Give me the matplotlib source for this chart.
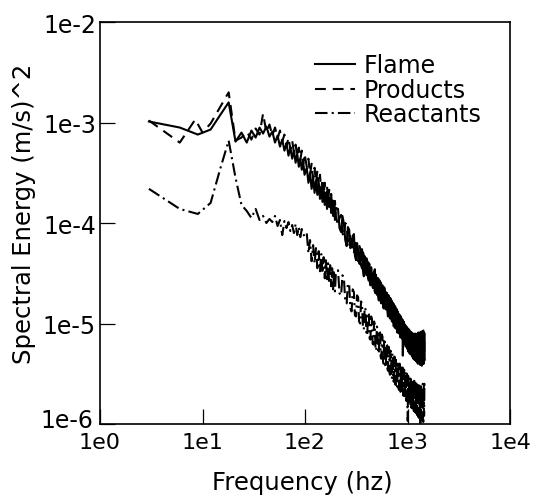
import numpy as np
import matplotlib
matplotlib.use("Agg")
import matplotlib.pyplot as plt
import matplotlib.transforms as mtransforms

plt.rcParams['font.family'] = ['DejaVu Sans']

# ---------------- data (log10 of spectral energy) ----------------
f_low = [3, 6, 9, 12, 15, 18, 21]
f_prod_low = [3, 6, 8.5, 10, 12, 15, 18, 21]
f_mid = np.arange(24, 100, 3)      # 24 .. 99 Hz
f_hi = np.arange(104, 201, 4)      # 104 .. 200 Hz
f_top = np.arange(210, 1471, 15)   # 210 .. 1470 Hz
f_top_b = np.arange(217, 1471, 15) # 217 .. 1462 Hz (interleaved samples)

flame_low = [-2.99, -3.05, -3.12, -3.07, -2.92, -2.80, -3.19]
flame_mid = [-3.10, -3.20, -3.08, -3.15, -3.05, -3.11, -3.04, -3.14, -3.09, -3.20,
             -3.13, -3.24, -3.17, -3.28, -3.21, -3.33, -3.25, -3.36, -3.28, -3.40,
             -3.31, -3.44, -3.36, -3.47, -3.39, -3.52]
flame_hi = [-3.45, -3.60, -3.50, -3.66, -3.55, -3.70, -3.58, -3.72, -3.60, -3.76,
            -3.64, -3.79, -3.67, -3.82, -3.70, -3.86, -3.73, -3.84, -3.75, -3.90,
            -3.78, -3.93, -3.82, -3.97, -3.85]
flame_top = [-3.86, -4.09, -4.01, -4.23, -4.07, -4.23, -4.11, -4.37, -4.27, -4.41,
             -4.26, -4.53, -4.37, -4.51, -4.40, -4.62, -4.52, -4.65, -4.46, -4.67,
             -4.55, -4.77, -4.60, -4.80, -4.62, -4.85, -4.66, -4.86, -4.70, -4.93,
             -4.74, -4.95, -4.77, -4.98, -4.80, -5.03, -4.83, -5.05, -4.86, -5.09,
             -4.90, -5.10, -4.92, -5.14, -4.95, -5.15, -5.32, -4.98, -5.20, -5.01,
             -5.23, -5.03, -5.25, -5.06, -5.28, -5.06, -5.30, -5.08, -5.31, -5.09,
             -5.33, -5.10, -5.35, -5.11, -5.36, -5.10, -5.37, -5.11, -5.38, -5.12,
             -5.40, -5.09, -5.37, -5.13, -5.41, -5.10, -5.38, -5.08, -5.42, -5.12,
             -5.39, -5.07, -5.40, -5.11, -5.36]
flame_top_b = [-4.05, -3.93, -4.17, -4.04, -4.25, -4.13, -4.33, -4.20, -4.40, -4.27,
               -4.47, -4.33, -4.52, -4.39, -4.58, -4.44, -4.64, -4.49, -4.70, -4.55,
               -4.72, -4.57, -4.78, -4.62, -4.80, -4.64, -4.85, -4.69, -4.88, -4.72,
               -4.92, -4.75, -4.95, -4.79, -4.98, -4.82, -5.01, -4.85, -5.04, -4.88,
               -5.07, -4.91, -5.10, -4.93, -5.12, -4.96, -5.15, -4.99, -5.18, -5.02,
               -5.20, -5.04, -5.22, -5.05, -5.24, -5.07, -5.27, -5.09, -5.28, -5.10,
               -5.30, -5.10, -5.31, -5.12, -5.33, -5.11, -5.34, -5.13, -5.36, -5.10,
               -5.35, -5.14, -5.38, -5.09, -5.36, -5.12, -5.41, -5.11, -5.37, -5.08,
               -5.40, -5.13, -5.38, -5.10]

products_low = [-2.98, -3.20, -2.97, -3.10, -3.01, -2.84, -2.70, -3.18]
products_mid = [-3.15, -3.09, -3.17, -3.06, -3.12, -2.91, -3.10, -3.02, -3.13, -3.05,
                -3.16, -3.08, -3.19, -3.12, -3.24, -3.15, -3.27, -3.18, -3.30, -3.22,
                -3.34, -3.25, -3.37, -3.28, -3.41, -3.31]
products_hi = [-3.44, -3.36, -3.52, -3.41, -3.56, -3.45, -3.60, -3.48, -3.64, -3.52,
               -3.68, -3.56, -3.72, -3.60, -3.75, -3.63, -3.79, -3.67, -3.83, -3.71,
               -3.87, -3.74, -3.90, -3.78, -3.93]
products_top = [-4.03, -3.92, -4.14, -4.02, -4.24, -4.12, -4.31, -4.18, -4.38, -4.25,
                -4.45, -4.32, -4.50, -4.38, -4.58, -4.43, -4.63, -4.49, -4.68, -4.53,
                -4.72, -4.57, -4.76, -4.61, -4.80, -4.65, -4.84, -4.69, -4.88, -4.72,
                -4.91, -4.75, -4.94, -4.79, -4.97, -4.82, -5.00, -4.85, -5.03, -4.88,
                -5.06, -4.90, -5.08, -4.93, -5.11, -4.96, -5.14, -5.00, -5.17, -5.02,
                -5.20, -5.05, -5.22, -5.07, -5.24, -5.09, -5.26, -5.10, -5.28, -5.11,
                -5.30, -5.12, -5.31, -5.13, -5.32, -5.14, -5.33, -5.13, -5.35, -5.14,
                -5.34, -5.12, -5.36, -5.15, -5.33, -5.11, -5.37, -5.14, -5.35, -5.10,
                -5.38, -5.13, -5.34, -5.09, -5.37]
products_top_b = [-3.95, -4.10, -4.00, -4.19, -4.10, -4.27, -4.16, -4.36, -4.22, -4.42,
                  -4.29, -4.49, -4.35, -4.55, -4.41, -4.60, -4.46, -4.66, -4.51, -4.70,
                  -4.55, -4.75, -4.59, -4.78, -4.63, -4.82, -4.67, -4.86, -4.70, -4.89,
                  -4.74, -4.92, -4.77, -4.95, -4.80, -4.98, -4.83, -5.01, -4.86, -5.04,
                  -4.89, -5.07, -4.92, -5.10, -4.94, -5.13, -4.97, -5.16, -5.00, -5.19,
                  -5.03, -5.21, -5.05, -5.23, -5.07, -5.25, -5.08, -5.27, -5.10, -5.29,
                  -5.11, -5.30, -5.12, -5.32, -5.13, -5.33, -5.12, -5.34, -5.13, -5.36,
                  -5.11, -5.35, -5.14, -5.37, -5.10, -5.36, -5.13, -5.38, -5.09, -5.35,
                  -5.12, -5.39, -5.10, -5.36]

reactants_low = [-3.66, -3.86, -3.91, -3.80, -3.45, -3.18, -3.55]
reactants_mid = [-3.82, -3.88, -3.95, -3.86, -3.97, -3.93, -4.00, -3.96, -3.99, -3.93,
                 -4.03, -3.97, -4.12, -3.98, -4.05, -3.99, -4.08, -4.02, -4.10, -4.01,
                 -4.12, -4.04, -4.14, -4.06, -4.11, -4.13]
reactants_hi = [-4.10, -4.30, -4.17, -4.38, -4.22, -4.40, -4.25, -4.45, -4.28, -4.48,
                -4.31, -4.50, -4.34, -4.55, -4.37, -4.58, -4.40, -4.60, -4.42, -4.63,
                -4.45, -4.66, -4.47, -4.68, -4.50]
reactants_top = [-4.47, -4.72, -4.56, -4.80, -4.62, -4.88, -4.69, -4.93, -4.74, -5.00,
                 -4.80, -5.06, -4.86, -5.12, -4.91, -5.16, -4.96, -5.21, -5.01, -5.27,
                 -5.05, -5.30, -5.09, -5.35, -5.13, -5.40, -5.17, -5.44, -5.21, -5.47,
                 -5.24, -5.51, -5.28, -5.55, -5.30, -5.58, -5.33, -5.61, -5.36, -5.63,
                 -5.38, -5.66, -5.40, -5.68, -5.42, -5.70, -5.44, -5.72, -5.46, -5.74,
                 -5.49, -5.77, -5.50, -5.97, -5.53, -5.80, -5.55, -5.82, -5.56, -5.84,
                 -5.57, -5.86, -5.59, -5.87, -5.58, -5.88, -5.60, -5.89, -5.61, -5.90,
                 -5.62, -5.93, -5.60, -5.91, -5.63, -5.99, -5.61, -5.92, -5.64, -5.94,
                 -5.60, -5.98, -5.62, -5.91, -5.65]
reactants_top_b = [-4.70, -4.52, -4.78, -4.60, -4.85, -4.66, -4.92, -4.72, -4.98, -4.78,
                   -5.04, -4.84, -5.10, -4.89, -5.15, -4.93, -5.20, -4.98, -5.25, -5.03,
                   -5.29, -5.07, -5.33, -5.11, -5.38, -5.15, -5.42, -5.20, -5.45, -5.23,
                   -5.49, -5.27, -5.53, -5.30, -5.56, -5.33, -5.59, -5.35, -5.62, -5.38,
                   -5.64, -5.40, -5.66, -5.42, -5.68, -5.44, -5.71, -5.46, -5.73, -5.48,
                   -5.75, -5.50, -5.78, -5.52, -5.79, -5.54, -5.81, -5.55, -5.83, -5.56,
                   -5.85, -5.58, -5.86, -5.57, -5.88, -5.59, -5.89, -5.60, -5.91, -5.61,
                   -5.92, -5.59, -5.94, -5.62, -5.90, -5.60, -5.96, -5.63, -5.93, -5.61,
                   -5.95, -5.64, -5.92, -5.60]

x_ticks = [1e0, 1e1, 1e2, 1e3, 1e4]
x_tick_labels = ['1e0', '1e1', '1e2', '1e3', '1e4']
y_ticks = [1e-6, 1e-5, 1e-4, 1e-3, 1e-2]
y_tick_labels = ['1e-6', '1e-5', '1e-4', '1e-3', '1e-2']


# ---------------- assemble ----------------
def build(f_first, v_first, v_mid, v_hi, v_top, v_top_b):
    ft = np.concatenate([f_top, f_top_b])
    vt = np.concatenate([v_top, v_top_b])
    order = np.argsort(ft)
    f = np.concatenate([f_first, f_mid, f_hi, ft[order]])
    v = np.concatenate([v_first, v_mid, v_hi, vt[order]])
    return f, 10 ** v


flame_f, flame_e = build(f_low, flame_low, flame_mid, flame_hi, flame_top, flame_top_b)
prod_f, prod_e = build(f_prod_low, products_low, products_mid, products_hi,
                       products_top, products_top_b)
reac_f, reac_e = build(f_low, reactants_low, reactants_mid, reactants_hi,
                       reactants_top, reactants_top_b)

# ---------------- plot ----------------
fig = plt.figure(figsize=(5.35, 5.02), dpi=100)
ax = fig.add_axes([100 / 535, 1 - 425 / 502, 410 / 535, 402 / 502])

lw = 1.5
ax.plot(flame_f, flame_e, color='black', lw=lw, ls='-', label='Flame')
ax.plot(prod_f, prod_e, color='black', lw=lw, ls=(0, (5.2, 3.3)), label='Products')
ax.plot(reac_f, reac_e, color='black', lw=lw, ls=(0, (6.0, 2.0, 1.0, 2.0)), label='Reactants')

ax.set_xscale('log')
ax.set_yscale('log')
ax.set_xlim(1e0, 1e4)
ax.set_ylim(1e-6, 1e-2)
ax.set_xticks(x_ticks)
ax.set_xticklabels(x_tick_labels)
ax.set_yticks(y_ticks)
ax.set_yticklabels(y_tick_labels)
ax.minorticks_off()
ax.tick_params(axis='both', which='major', direction='in', length=11, width=0.9,
               pad=3, top=False, right=False, color='black')
ax.tick_params(axis='x', pad=6, labelsize=16)
ax.tick_params(axis='y', labelsize=17)
for sp in ax.spines.values():
    sp.set_linewidth(1.2)
    sp.set_color('black')

# lift the lowest y label a little so it clears the '1e0' label
lowest = ax.get_yticklabels()[0]
lowest.set_transform(lowest.get_transform() +
                     mtransforms.ScaledTranslation(-2 / 72, 5 / 72, fig.dpi_scale_trans))

ax.set_xlabel('Frequency (hz)', fontsize=17.5)
ax.xaxis.set_label_coords(0.493, -0.115)
ax.xaxis.label.set_va('top')
ax.set_ylabel('Spectral Energy (m/s)^2', fontsize=17.5)
ax.yaxis.set_label_coords(-0.155, 0.525)

leg = ax.legend(loc='upper left', bbox_to_anchor=(0.524, 0.922), frameon=False,
                fontsize=17, handlelength=1.7, handletextpad=0.35,
                labelspacing=0.02, borderpad=0, borderaxespad=0)

fig.savefig('out.png', dpi=100)
